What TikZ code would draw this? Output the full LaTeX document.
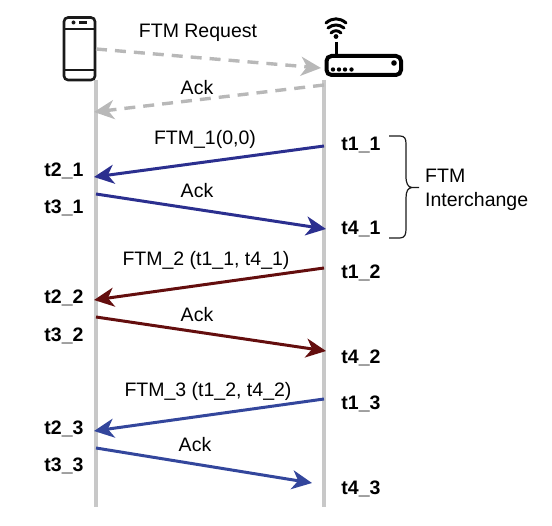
\documentclass[tikz,border=0pt]{standalone}
\usepackage{fontspec}
\setmainfont{Liberation Sans}
\usetikzlibrary{arrows.meta}
\definecolor{lifeg}{HTML}{C8C8C8}
\definecolor{dashg}{HTML}{B8B8B8}
\definecolor{blueA}{HTML}{2B2F8F}
\definecolor{redA}{HTML}{640E0E}
\definecolor{blueB}{HTML}{33469C}
\definecolor{ink}{HTML}{1A1A1A}
\tikzset{
 lifeline/.style={draw=lifeg,line width=4pt},
 msgarrow/.style={line width=3pt,-{Stealth[length=20pt,width=19pt,inset=6pt]}},
 reqarrow/.style={msgarrow,draw=dashg,color=dashg,dash pattern=on 11pt off 8pt,line width=3.4pt},
 lbl/.style={font=\fontsize{19.5}{24}\selectfont,inner sep=0pt,text=black},
 tlbl/.style={font=\fontsize{19.5}{24}\selectfont\bfseries,inner sep=0pt,text=black},
 icon/.style={draw=ink,line width=2.6pt}
}
\begin{document}
\begin{tikzpicture}[x=1pt,y=-1pt]
\useasboundingbox (0,0) rectangle (552,526);
% anchors
\coordinate (ltop) at (96,80); \coordinate (lbot) at (96,507);
\coordinate (rtop) at (324,80); \coordinate (rbot) at (324,507);
\draw[lifeline] (ltop) -- (lbot);
\draw[lifeline] (rtop) -- (rbot);
% phone
\draw[icon,rounded corners=4pt] (64,17.5) rectangle (95,80);
\draw[icon,line width=1.8pt] (64,29) -- (95,29) (64,70) -- (95,70);
\fill[ink] (73.5,22.5) circle (2pt);
\fill[ink] (79,21.3) rectangle (87,23.7);
% router
\draw[draw=black,line width=4pt,rounded corners=5pt] (326.5,56) rectangle (401,75);
\draw[black,line width=3pt] (336,42) -- (336,56);
\foreach \xx in {333,339,345,351.5}{\fill[black] (\xx,69.5) circle (2.2pt);}
\fill[black] (394,63) circle (2.8pt);
\fill[black] (336,36.5) circle (2.4pt);
\draw[black,line width=3pt,line cap=round] (331,33) .. controls (334,30) and (338,30) .. (341,33);
\draw[black,line width=3pt,line cap=round] (328,28) .. controls (333,24) and (339,24) .. (344,28);
\draw[black,line width=3pt,line cap=round] (326,23) .. controls (332,17.5) and (340,17.5) .. (346,23);
% message end points
\coordinate (a1) at (96,49); \coordinate (a2) at (321,68);
\coordinate (b1) at (324,85); \coordinate (b2) at (94,112);
\coordinate (c1) at (324,146); \coordinate (c2) at (94,177);
\coordinate (d1) at (96,194); \coordinate (d2) at (326,229);
\coordinate (e1) at (324,268); \coordinate (e2) at (94,300);
\coordinate (f1) at (96,317); \coordinate (f2) at (326,351);
\coordinate (g1) at (324,399); \coordinate (g2) at (94,431);
\coordinate (h1) at (96,448); \coordinate (h2) at (312,483);
\draw[reqarrow] (a1) -- (a2);
\draw[reqarrow] (b1) -- (b2);
\draw[msgarrow,blueA] (c1) -- (c2);
\draw[msgarrow,blueA] (d1) -- (d2);
\draw[msgarrow,redA] (e1) -- (e2);
\draw[msgarrow,redA] (f1) -- (f2);
\draw[msgarrow,blueB] (g1) -- (g2);
\draw[msgarrow,blueB] (h1) -- (h2);
% labels
\node[lbl] (n1) at (198,33) {FTM Request};
\node[lbl] (n2) at (197,88) {Ack};
\node[lbl] (n3) at (205,139) {FTM\_1(0,0)};
\node[lbl] (n4) at (197,191) {Ack};
\node[lbl] (n5) at (206,260) {FTM\_2 (t1\_1, t4\_1)};
\node[lbl] (n6) at (197,315) {Ack};
\node[lbl] (n7) at (208,391) {FTM\_3 (t1\_2, t4\_2)};
\node[lbl] (n8) at (195,445) {Ack};
\node[tlbl] (t11) at (361,145) {t1\_1};
\node[tlbl] (t21) at (64,171) {t2\_1};
\node[tlbl] (t31) at (64,208) {t3\_1};
\node[tlbl] (t41) at (361,229) {t4\_1};
\node[tlbl] (t12) at (361,273) {t1\_2};
\node[tlbl] (t22) at (64,298) {t2\_2};
\node[tlbl] (t32) at (64,336) {t3\_2};
\node[tlbl] (t42) at (361,358) {t4\_2};
\node[tlbl] (t13) at (361,404) {t1\_3};
\node[tlbl] (t23) at (64,429) {t2\_3};
\node[tlbl] (t33) at (64,466) {t3\_3};
\node[tlbl] (t43) at (361,489) {t4\_3};
\node[lbl,align=left,anchor=west] (fi) at (425,190) {FTM\\Interchange};
% brace
\draw[ink,line width=1.2pt] (389,136) -- (400,136) .. controls (405,136) and (406,139) .. (406,144)
  -- (406,176) .. controls (406,184) and (408,187) .. (412,187.5) -- (419,187.5)
  (412,187.5) .. controls (408,188) and (406,191) .. (406,198)
  -- (406,229) .. controls (406,234) and (405,238) .. (400,238) -- (389,238);
\end{tikzpicture}
\end{document}
